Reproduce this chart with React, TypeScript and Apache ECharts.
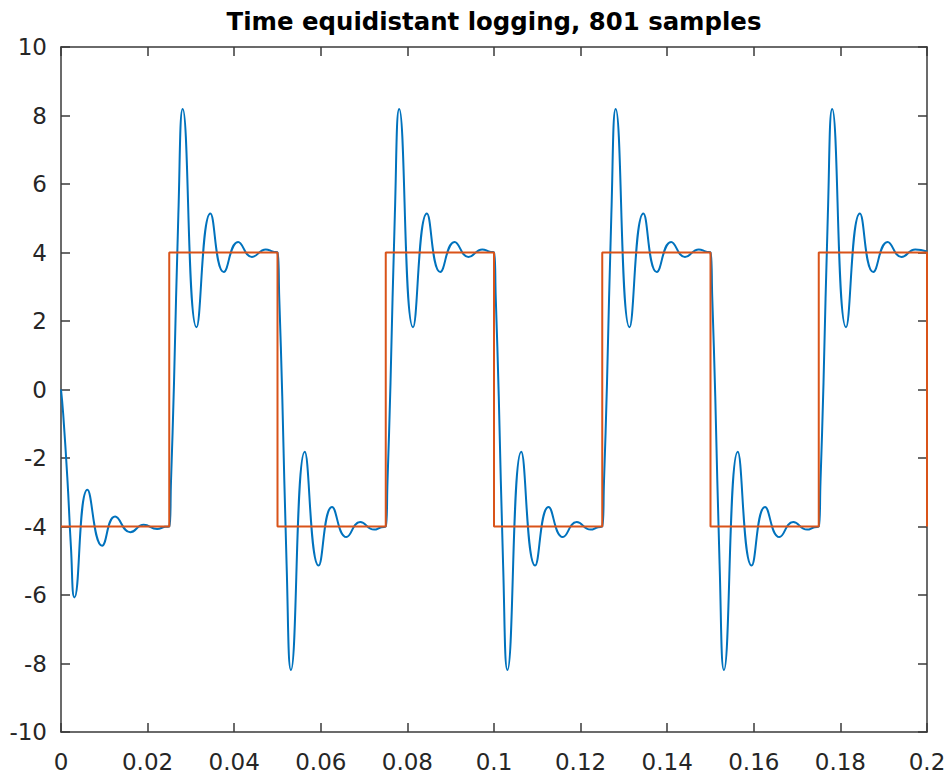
import React, { useEffect, useRef } from "react";
import * as echarts from "echarts";

// Title and tick labels
const titleText = "Time equidistant logging, 801 samples";
const xTicks = [0, 0.02, 0.04, 0.06, 0.08, 0.1, 0.12, 0.14, 0.16, 0.18, 0.2];
const yTicks = [-10, -8, -6, -4, -2, 0, 2, 4, 6, 8, 10];

// Square wave (orange): corner points
const squareX = [0, 0.025, 0.025, 0.05, 0.05, 0.075, 0.075, 0.1, 0.1, 0.125, 0.125, 0.15, 0.15, 0.175, 0.175, 0.2, 0.2];
const squareY = [-4, -4, 4, 4, -4, -4, 4, 4, -4, -4, 4, 4, -4, -4, 4, 4, -4];

// Ringing response (blue) per half period: edge points and extrema
const blueHalf1: [number, number][] = [
  [0, 0], [0.0005, -0.7], [0.0015, -2.66], [0.0023, -4.61], [0.0031, -6.07],
  [0.0061, -2.93], [0.0095, -4.56], [0.0125, -3.71], [0.016, -4.17], [0.0191, -3.95],
  [0.0222, -4.07], [0.024, -4.01],
];
const blueHalf2: [number, number][] = [
  [0.025, -4.0], [0.0254, -2.7], [0.0261, 0.2], [0.0271, 5.1], [0.0281, 8.19],
  [0.0313, 1.82], [0.0345, 5.14], [0.0376, 3.43], [0.0409, 4.31], [0.0441, 3.87],
  [0.0473, 4.09], [0.049, 4.02],
];
const blueHalf3: [number, number][] = [
  [0.05, 4.0], [0.0504, 2.7], [0.0511, -0.2], [0.0521, -5.1], [0.0531, -8.19],
  [0.0563, -1.82], [0.0595, -5.14], [0.0626, -3.43], [0.0659, -4.31], [0.0691, -3.87],
  [0.0723, -4.09], [0.074, -4.02],
];
const blueHalf4: [number, number][] = [
  [0.075, -4.0], [0.0754, -2.7], [0.0761, 0.2], [0.0771, 5.1], [0.0781, 8.19],
  [0.0813, 1.82], [0.0845, 5.14], [0.0876, 3.43], [0.0909, 4.31], [0.0941, 3.87],
  [0.0973, 4.09], [0.099, 4.02],
];
const blueHalf5: [number, number][] = [
  [0.1, 4.0], [0.1004, 2.7], [0.1011, -0.2], [0.1021, -5.1], [0.1031, -8.19],
  [0.1063, -1.82], [0.1095, -5.14], [0.1126, -3.43], [0.1159, -4.31], [0.1191, -3.87],
  [0.1223, -4.09], [0.124, -4.02],
];
const blueHalf6: [number, number][] = [
  [0.125, -4.0], [0.1254, -2.7], [0.1261, 0.2], [0.1271, 5.1], [0.1281, 8.19],
  [0.1313, 1.82], [0.1345, 5.14], [0.1376, 3.43], [0.1409, 4.31], [0.1441, 3.87],
  [0.1473, 4.09], [0.149, 4.02],
];
const blueHalf7: [number, number][] = [
  [0.15, 4.0], [0.1504, 2.7], [0.1511, -0.2], [0.1521, -5.1], [0.1531, -8.19],
  [0.1563, -1.82], [0.1595, -5.14], [0.1626, -3.43], [0.1659, -4.31], [0.1691, -3.87],
  [0.1723, -4.09], [0.174, -4.02],
];
const blueHalf8: [number, number][] = [
  [0.175, -4.0], [0.1754, -2.7], [0.1761, 0.2], [0.1771, 5.1], [0.1781, 8.19],
  [0.1813, 1.82], [0.1845, 5.14], [0.1876, 3.43], [0.1909, 4.31], [0.1941, 3.87],
  [0.1973, 4.09], [0.2, 4.03],
];

const AXIS_COLOR = "#3a3a3a";
const FONT = "DejaVu Sans";

export default function App() {
  const ref = useRef<HTMLDivElement>(null);

  useEffect(() => {
    if (!ref.current) return;
    const chart = echarts.init(ref.current, null, { renderer: "svg" });

    const blueData = [
      ...blueHalf1, ...blueHalf2, ...blueHalf3, ...blueHalf4,
      ...blueHalf5, ...blueHalf6, ...blueHalf7, ...blueHalf8,
    ];
    const squareData = squareX.map((x, i) => [x, squareY[i]]);
    const fmtX = (v: number) => String(+v.toFixed(2));

    const axisLine = { show: true, onZero: false, lineStyle: { color: AXIS_COLOR, width: 1.5 } };
    const tick = { show: true, inside: true, length: 9, lineStyle: { color: AXIS_COLOR, width: 1.5 } };
    const label = { color: "#262626", fontFamily: FONT, fontSize: 23, lineHeight: 23 };

    chart.setOption({
      animation: false,
      backgroundColor: "#ffffff",
      title: {
        text: titleText,
        left: 494,
        textAlign: "center",
        top: 9,
        padding: 0,
        textStyle: { fontFamily: FONT, fontWeight: "bold", fontSize: 24.4, color: "#000000", lineHeight: 24 },
      },
      grid: { left: 61, top: 47, right: 24, bottom: 44, containLabel: false },
      xAxis: [
        {
          type: "value", min: 0, max: 0.2, interval: 0.02, position: "bottom",
          axisLine, axisTick: tick, splitLine: { show: false },
          axisLabel: { ...label, margin: 18, formatter: (v: number) => (xTicks.includes(+v.toFixed(2)) ? fmtX(v) : "") },
        },
        {
          type: "value", min: 0, max: 0.2, interval: 0.02, position: "top",
          axisLine, axisTick: tick, splitLine: { show: false }, axisLabel: { show: false },
        },
      ],
      yAxis: [
        {
          type: "value", min: -10, max: 10, interval: 2, position: "left",
          axisLine, axisTick: tick, splitLine: { show: false },
          axisLabel: {
            ...label, margin: 14, padding: [6, 0, 0, 0],
            formatter: (v: number) => (yTicks.includes(Math.round(v)) ? String(Math.round(v)) : ""),
          },
        },
        {
          type: "value", min: -10, max: 10, interval: 2, position: "right",
          axisLine, axisTick: tick, splitLine: { show: false }, axisLabel: { show: false },
        },
      ],
      series: [
        {
          type: "line", name: "response", data: blueData, xAxisIndex: 0, yAxisIndex: 0,
          showSymbol: false, smooth: 0.5,
          lineStyle: { color: "#0072BD", width: 2 }, z: 2,
        },
        {
          type: "line", name: "square", data: squareData, xAxisIndex: 0, yAxisIndex: 0,
          showSymbol: false, lineStyle: { color: "#D95319", width: 2 }, z: 3,
        },
      ],
    });

    return () => chart.dispose();
  }, []);

  return (
    <div
      ref={ref}
      style={{ position: "absolute", left: 0, top: 0, width: 951, height: 776, background: "#fff" }}
    />
  );
}
